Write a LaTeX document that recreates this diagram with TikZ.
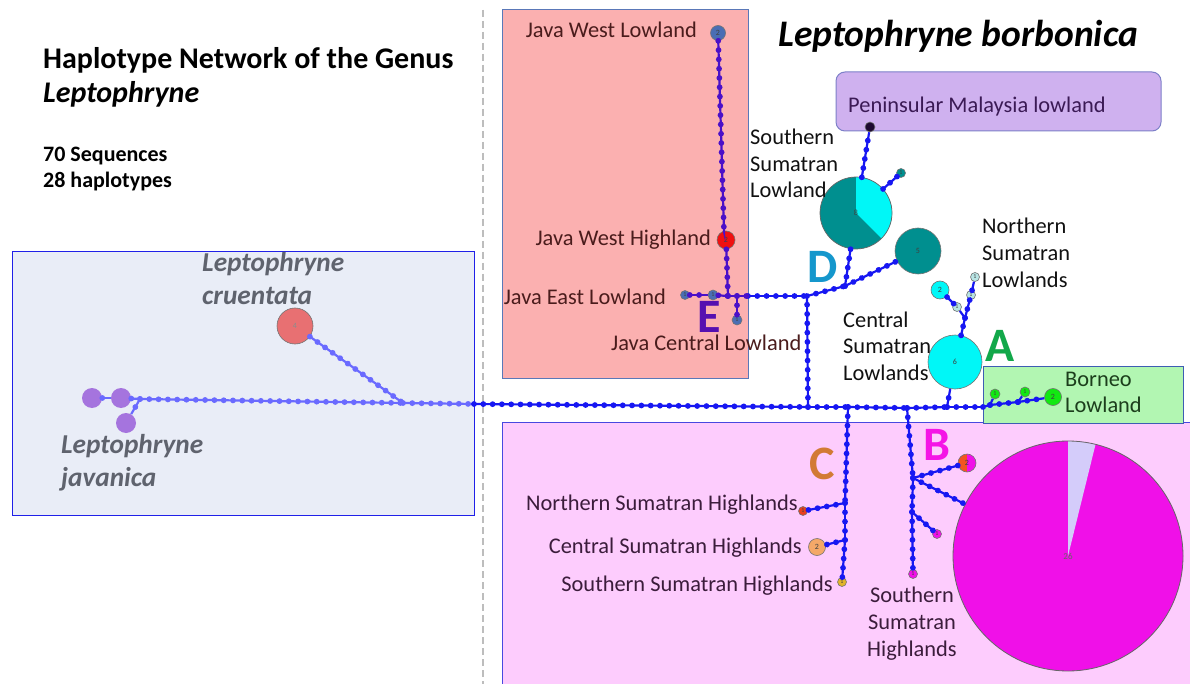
\documentclass[tikz,border=0pt]{standalone}
\usepackage{fontspec}
\setmainfont{Carlito}
\usetikzlibrary{decorations.markings}
\definecolor{mainblue}{HTML}{1717F2}
\definecolor{lightline}{HTML}{6A6AFF}
\definecolor{javaline}{HTML}{4A10C8}
\definecolor{leftbox}{HTML}{E9EDF7}
\definecolor{leftborder}{HTML}{2020E8}
\definecolor{javabox}{HTML}{FBB0B0}
\definecolor{javaborder}{HTML}{5A78B8}
\definecolor{pinkbox}{HTML}{FDCCFD}
\definecolor{pinkborder}{HTML}{4848E0}
\definecolor{malbox}{HTML}{CFB1EF}
\definecolor{malborder}{HTML}{7D80C8}
\definecolor{borbox}{HTML}{B2F6B2}
\definecolor{borborder}{HTML}{3D5DB3}
\definecolor{javatext}{HTML}{4A1C1C}
\definecolor{pinktext}{HTML}{3B1C3B}
\definecolor{maltext}{HTML}{3B1A55}
\definecolor{bortext}{HTML}{1C3E1C}
\definecolor{blacktext}{HTML}{111111}
\definecolor{speciestext}{HTML}{5F636E}
\definecolor{letA}{HTML}{12A84A}
\definecolor{letB}{HTML}{F514E6}
\definecolor{letC}{HTML}{D27A34}
\definecolor{letD}{HTML}{1597CC}
\definecolor{letE}{HTML}{5510B0}
\definecolor{purplehap}{HTML}{A574DE}
\definecolor{redhap}{HTML}{E87072}
\definecolor{jwlhap}{HTML}{4A6EB4}
\definecolor{jwhhap}{HTML}{F01010}
\definecolor{tealhap}{HTML}{008F8F}
\definecolor{cyanhap}{HTML}{00F7F7}
\definecolor{palecyan}{HTML}{B8E4E4}
\definecolor{greenhap}{HTML}{12E812}
\definecolor{malhap}{HTML}{1E0A30}
\definecolor{nshhap}{HTML}{E8401E}
\definecolor{cshhap}{HTML}{F4A868}
\definecolor{sshhap}{HTML}{E2B42A}
\definecolor{bhalfL}{HTML}{F25522}
\definecolor{magentahap}{HTML}{F010E8}
\definecolor{lavwedge}{HTML}{D4CCFA}
\definecolor{dashgray}{HTML}{BDBDBD}
\tikzset{
  dotted line/.style={line width=2.2pt, draw=#1,
    postaction={decorate, decoration={markings,
      mark=between positions 0 and 1 step 9.3pt with {\fill[#1] (0,0) circle (2.9pt);}}}},
  mline/.style={dotted line=mainblue},
  lline/.style={dotted line=lightline},
  jline/.style={dotted line=javaline},
  hap/.style 2 args={circle, fill=#1, draw=black!55, line width=0.6pt, minimum size=#2,
    inner sep=0pt, font=\fontsize{8}{8}\selectfont, text=black!75},
  lab/.style={inner sep=0pt, font=\fontsize{22.4}{26}\selectfont},
  species/.style={inner sep=0pt, text=speciestext, font=\fontsize{27.3}{30}\bfseries\itshape\selectfont},
  bigletter/.style={inner sep=0pt, text height=31pt, text depth=0pt, font=\fontsize{48}{48}\bfseries\selectfont},
}
\begin{document}
\begin{tikzpicture}[x=1pt,y=-1pt]
\useasboundingbox[fill=white] (0,0) rectangle (1190,684);

% ---------- background boxes ----------
\fill[leftbox, draw=leftborder, line width=1pt] (12,252) rectangle (474,515);
\fill[javabox, draw=javaborder, line width=1pt] (502,10) rectangle (748,378);
\fill[pinkbox, draw=pinkborder, line width=1pt] (502,422) rectangle (1192,686);
\fill[malbox, draw=malborder, line width=1pt, rounded corners=9pt] (836,72) rectangle (1161,131);
\fill[borbox, draw=borborder, line width=1pt] (983,366) rectangle (1183,423);
\draw[dashgray, line width=2pt, dash pattern=on 7pt off 4pt] (483,10) -- (483,684);

% ---------- titles ----------
\node[inner sep=0pt, anchor=base west, font=\fontsize{30}{34}\bfseries\selectfont] (title1) at (43,69) {Haplotype Network of the Genus};
\node[inner sep=0pt, anchor=base west, font=\fontsize{30}{34}\bfseries\itshape\selectfont] (title2) at (43,103) {Leptophryne};
\node[inner sep=0pt, anchor=base west, font=\fontsize{22}{26}\bfseries\selectfont] (seq) at (43,162) {70 Sequences};
\node[inner sep=0pt, anchor=base west, font=\fontsize{22}{26}\bfseries\selectfont] (hapn) at (43,188) {28 haplotypes};
\node[inner sep=0pt, anchor=base west, font=\fontsize{37.5}{40}\bfseries\itshape\selectfont] (borb) at (778,47) {Leptophryne borbonica};

% ---------- coordinates (junctions) ----------
\coordinate (jl0) at (140,399);
\coordinate (jcr) at (403,403);
\coordinate (jbox) at (474,404);
\coordinate (jd) at (808,407);
\coordinate (jc) at (848,407);
\coordinate (jb) at (907,408);
\coordinate (ja) at (947,407);
\coordinate (jbo) at (983,407);
\coordinate (jbn1) at (990,405);
\coordinate (jbn2) at (1018,402);
\coordinate (je) at (728,296);
\coordinate (jce) at (737,296);
\coordinate (jjb) at (748,296);
\coordinate (jdv) at (807,296);
\coordinate (jD) at (845,286);
\coordinate (jA) at (965,318);
\coordinate (jc1) at (845,503);
\coordinate (jc2) at (845,540);
\coordinate (jb1) at (913,478);
\coordinate (jb2) at (912,512);
\coordinate (jw1) at (724,232);

% ---------- haplotype nodes ----------
\node[hap={purplehap}{20pt}, draw=none] (jv1) at (92,398) {};
\node[hap={purplehap}{20pt}, draw=none] (jv2) at (121,398) {};
\node[hap={purplehap}{20pt}, draw=none] (jv3) at (126,423) {};
\node[hap={redhap}{36pt}, text=black!45] (cru) at (295,326) {4};

\node[hap={jwlhap}{15pt}] (jwl) at (718,33) {2};
\node[hap={jwhhap}{18pt}] (jwh) at (726,240) {2};
\node[hap={jwlhap}{9pt}, font=\fontsize{6}{6}\selectfont] (jel1) at (685,295) {1};
\node[hap={jwlhap}{10pt}, font=\fontsize{6}{6}\selectfont] (jel2) at (713,295) {1};
\node[hap={jwlhap}{10pt}, font=\fontsize{6}{6}\selectfont] (jcl) at (737,320) {1};

\node[circle, minimum size=72pt, inner sep=0pt] (p8) at (856,213) {};
\node[hap={tealhap}{46pt}] (n5) at (918,251) {5};
\node[hap={malhap}{10pt}] (nm) at (870,127) {};
\node[hap={tealhap}{9pt}, font=\fontsize{6}{6}\selectfont] (nt) at (901,173) {1};

\node[hap={cyanhap}{54pt}] (n6) at (955,362) {6};
\node[hap={palecyan}{9pt}, font=\fontsize{6}{6}\selectfont] (na1) at (957,307) {1};
\node[hap={cyanhap}{18pt}] (na2) at (940,290) {2};
\node[hap={palecyan}{9pt}, font=\fontsize{6}{6}\selectfont] (na3) at (971,295) {1};
\node[hap={palecyan}{9pt}, font=\fontsize{6}{6}\selectfont] (na4) at (975,277) {1};

\node[hap={greenhap}{10pt}, font=\fontsize{6}{6}\selectfont] (nb1) at (995,394) {1};
\node[hap={greenhap}{10pt}, font=\fontsize{6}{6}\selectfont] (nb2) at (1025,392) {1};
\node[hap={greenhap}{17pt}] (nb3) at (1053,397) {2};

\node[hap={nshhap}{9pt}, font=\fontsize{6}{6}\selectfont] (nc1) at (803,511) {1};
\node[hap={cshhap}{17pt}] (nc2) at (817,547) {2};
\node[hap={sshhap}{9pt}, font=\fontsize{6}{6}\selectfont] (nc3) at (842,582) {1};

\node[circle, minimum size=18pt, inner sep=0pt] (nbb1) at (967,463) {};
\node[hap={magentahap}{9pt}, font=\fontsize{6}{6}\selectfont] (nbb2) at (937,534) {1};
\node[hap={magentahap}{9pt}, font=\fontsize{6}{6}\selectfont] (nbb3) at (913,574) {1};
\node[circle, minimum size=230pt, inner sep=0pt] (P26) at (1068,556) {};

% ---------- pies ----------
\fill[tealhap] (p8.center) circle (36pt);
\fill[cyanhap] (p8.center) -- +(90:36pt) arc[start angle=90, end angle=-45, radius=36pt] -- cycle;
\draw[black!60, line width=0.7pt] (p8.center) circle (36pt);
\node[inner sep=0pt, font=\fontsize{8}{8}\selectfont, text=black!75] (p8lab) at (p8.center) {8};

\fill[bhalfL] (nbb1.center) -- +(90:9pt) arc[start angle=90, end angle=270, radius=9pt] -- cycle;
\fill[magentahap] (nbb1.center) -- +(90:9pt) arc[start angle=90, end angle=-90, radius=9pt] -- cycle;
\draw[black!55, line width=0.6pt] (nbb1.center) circle (9pt);
\node[inner sep=0pt, font=\fontsize{8}{8}\selectfont, text=black!75] (nbb1lab) at (nbb1.center) {2};

\fill[magentahap] (P26.center) circle (115pt);
\fill[lavwedge] (P26.center) -- +(90:115pt) arc[start angle=90, end angle=76.15, radius=115pt] -- cycle;
\draw[black!60, line width=0.8pt] (P26.center) circle (115pt);
\node[inner sep=0pt, font=\fontsize{9}{9}\selectfont, text=black!60] (P26lab) at (P26.center) {26};

% ---------- connectors ----------
% left (L. javanica / cruentata)
\draw[lline] (jv1) -- (jv2);
\draw[lline] (jv2) -- (jl0);
\draw[lline] (jl0) -- (jv3);
\draw[lline] (jl0) -- (jcr);
\draw[lline] (cru) -- (jcr);
\draw[lline] (jcr) -- (jbox);
\draw[mline] (jbox) -- (jd);
% main spine right
\draw[mline] (jd) -- (jc);
\draw[mline] (jc) -- (jb);
\draw[mline] (jb) -- (ja);
\draw[mline] (ja) -- (jbo);
\draw[mline] (ja) -- (n6);
% Borneo
\draw[mline] (jbo) -- (jbn1);
\draw[mline] (jbn1) -- (jbn2);
\draw[mline] (jbn2) -- (nb3);
\draw[mline] (jbn1) -- (nb1);
\draw[mline] (jbn2) -- (nb2);
% Central Sumatran lowlands
\draw[mline] (n6) -- (jA);
\draw[mline] (jA) -- (na1);
\draw[mline] (na1) -- (na2);
\draw[mline] (jA) -- (na3);
\draw[mline] (na3) -- (na4);
% D
\draw[mline] (jd) -- (jdv);
\draw[mline] (jjb) -- (jdv);
\draw[mline] (jdv) -- (jD);
\draw[mline] (jD) -- (n5);
\draw[mline] (jD) -- (p8);
\draw[mline] (p8) -- (nm);
\draw[mline] (p8) -- (nt);
% Java
\draw[jline] (jwl) -- (jw1) -- (jwh);
\draw[jline] (jwh) -- (je);
\draw[jline] (jel1) -- (jel2);
\draw[jline] (jel2) -- (je);
\draw[jline] (je) -- (jce);
\draw[jline] (jce) -- (jjb);
\draw[jline] (jce) -- (jcl);
% C
\draw[mline] (jc) -- (jc1);
\draw[mline] (jc1) -- (jc2);
\draw[mline] (jc2) -- (nc3);
\draw[mline] (jc1) -- (nc1);
\draw[mline] (jc2) -- (nc2);
% B
\draw[mline] (jb) -- (jb1);
\draw[mline] (jb1) -- (jb2);
\draw[mline] (jb2) -- (nbb3);
\draw[mline] (jb1) -- (nbb1);
\draw[mline] (jb1) -- (P26);
\draw[mline] (jb2) -- (nbb2);

% ---------- species labels ----------
\node[species, anchor=base west] (crul1) at (202,272) {Leptophryne};
\node[species, anchor=base west] (crul2) at (202,305) {cruentata};
\node[species, anchor=base west] (javl1) at (61,453) {Leptophryne};
\node[species, anchor=base west] (javl2) at (61,486) {javanica};

% ---------- locality labels ----------
\node[lab, text=javatext, anchor=base east] (tjwl) at (697,38) {Java West Lowland};
\node[lab, text=javatext, anchor=base east] (tjwh) at (711,246) {Java West Highland};
\node[lab, text=javatext, anchor=base east] (tjel) at (666,305) {Java East Lowland};
\node[lab, text=javatext, anchor=base west] (tjcl) at (611,350) {Java Central Lowland};

\node[lab, text=maltext, anchor=base west] (tmal) at (848,113) {Peninsular Malaysia lowland};

\node[lab, text=blacktext, anchor=base west] (tssl1) at (750,145) {Southern};
\node[lab, text=blacktext, anchor=base west] (tssl2) at (750,172) {Sumatran};
\node[lab, text=blacktext, anchor=base west] (tssl3) at (750,198) {Lowland};

\node[lab, text=blacktext, anchor=base west] (tnsl1) at (982,234) {Northern};
\node[lab, text=blacktext, anchor=base west] (tnsl2) at (982,261) {Sumatran};
\node[lab, text=blacktext, anchor=base west] (tnsl3) at (982,288) {Lowlands};

\node[lab, text=blacktext, anchor=base west] (tcsl1) at (843,327) {Central};
\node[lab, text=blacktext, anchor=base west] (tcsl2) at (843,353) {Sumatran};
\node[lab, text=blacktext, anchor=base west] (tcsl3) at (843,380) {Lowlands};

\node[lab, text=bortext, anchor=base west] (tbor1) at (1065,386) {Borneo};
\node[lab, text=bortext, anchor=base west] (tbor2) at (1065,412) {Lowland};

\node[lab, text=pinktext, anchor=base east] (tnsh) at (798,510) {Northern Sumatran Highlands};
\node[lab, text=pinktext, anchor=base east] (tcsh) at (802,553) {Central Sumatran Highlands};
\node[lab, text=pinktext, anchor=base east] (tssh) at (833,591) {Southern Sumatran Highlands};

\node[lab, text=pinktext, anchor=base] (tsshb1) at (912,602) {Southern};
\node[lab, text=pinktext, anchor=base] (tsshb2) at (912,629) {Sumatran};
\node[lab, text=pinktext, anchor=base] (tsshb3) at (912,656) {Highlands};

% ---------- clade letters ----------
\node[bigletter, text=letA, anchor=base west] (LA) at (985,361) {A};
\node[bigletter, text=letB, anchor=base west] (LB) at (923,460) {B};
\node[bigletter, text=letC, anchor=base west] (LC) at (809,479) {C};
\node[bigletter, text=letD, anchor=base west] (LD) at (807,283) {D};
\node[bigletter, text=letE, anchor=base west] (LE) at (697,332) {E};
\end{tikzpicture}
\end{document}
